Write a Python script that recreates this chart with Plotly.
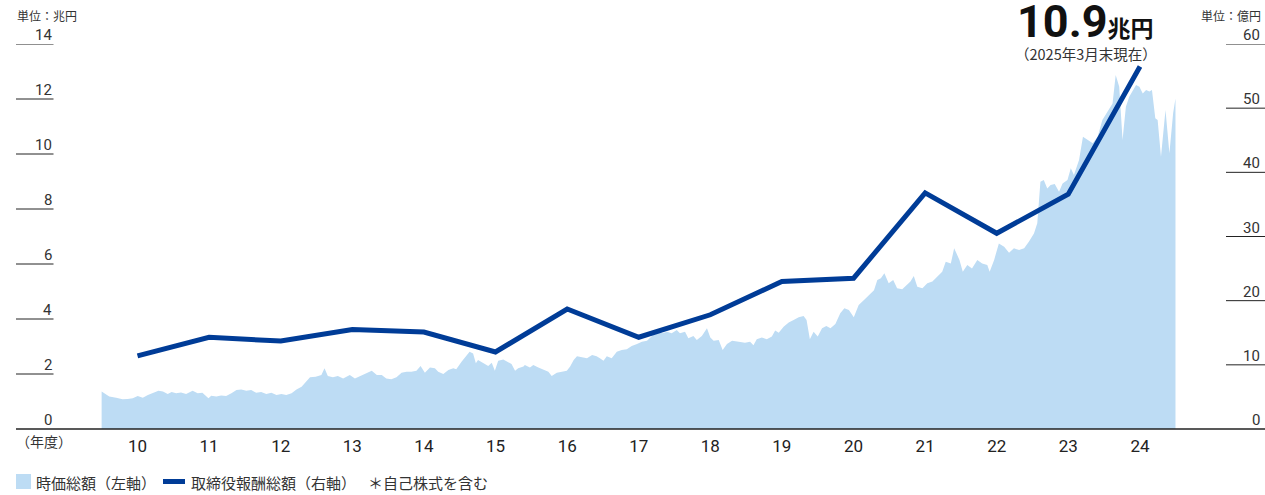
import plotly.graph_objects as go
import pandas as pd

# ---------------- data ----------------
fiscal_years = ["10", "11", "12", "13", "14", "15", "16", "17", "18", "19", "20", "21", "22", "23", "24"]
fy_mid_dates = ["2010-10-01", "2011-10-01", "2012-10-01", "2013-10-01", "2014-10-01",
                "2015-10-01", "2016-10-01", "2017-10-01", "2018-10-01", "2019-10-01",
                "2020-10-01", "2021-10-01", "2022-10-01", "2023-10-01", "2024-10-01"]
# 取締役報酬総額 (億円)
comp_values = [11.4, 14.3, 13.7, 15.5, 15.1, 12.0, 18.7, 14.3, 17.8, 23.0, 23.5, 36.8, 30.5, 36.6, 56.5]

# 時価総額 (兆円)
cap_dates = [
    "2010-04-01", "2010-04-15", "2010-05-10", "2010-06-14", "2010-07-17", "2010-08-12", "2010-09-07",
    "2010-10-02", "2010-10-28", "2010-11-23", "2010-12-18", "2011-01-16", "2011-02-08", "2011-03-04",
    "2011-03-24", "2011-04-16", "2011-05-11", "2011-06-06", "2011-07-09", "2011-08-04", "2011-08-28",
    "2011-09-28", "2011-10-12", "2011-11-07", "2011-12-02", "2011-12-27", "2012-01-23", "2012-02-18",
    "2012-03-13", "2012-04-08", "2012-05-03", "2012-05-28", "2012-06-23", "2012-07-19", "2012-08-14",
    "2012-09-09", "2012-10-04", "2012-10-29", "2012-11-25", "2012-12-20", "2013-01-15", "2013-02-05",
    "2013-02-27", "2013-03-28", "2013-04-26", "2013-05-12", "2013-05-29", "2013-06-24", "2013-07-19",
    "2013-08-15", "2013-09-18", "2013-10-14", "2013-11-09", "2013-12-04", "2014-01-08", "2014-02-03",
    "2014-02-28", "2014-03-23", "2014-04-18", "2014-05-14", "2014-06-09", "2014-07-04", "2014-07-29",
    "2014-08-24", "2014-09-14", "2014-10-06", "2014-11-01", "2014-11-26", "2014-12-13", "2015-01-08",
    "2015-02-03", "2015-02-28", "2015-03-15", "2015-04-11", "2015-05-06", "2015-05-22", "2015-06-09",
    "2015-06-23", "2015-07-04", "2015-07-21", "2015-08-08", "2015-08-25", "2015-09-12", "2015-09-28",
    "2015-10-15", "2015-11-10", "2015-12-05", "2015-12-22", "2016-01-09", "2016-01-25", "2016-02-21",
    "2016-02-28", "2016-03-25", "2016-04-11", "2016-05-07", "2016-06-02", "2016-06-27", "2016-07-14",
    "2016-08-09", "2016-09-04", "2016-09-29", "2016-10-16", "2016-11-03", "2016-11-20", "2016-12-15",
    "2017-01-10", "2017-02-05", "2017-02-28", "2017-03-17", "2017-04-04", "2017-04-21", "2017-05-16",
    "2017-06-11", "2017-07-06", "2017-08-01", "2017-08-26", "2017-09-22", "2017-10-17", "2017-11-12",
    "2017-12-07", "2018-01-02", "2018-01-28", "2018-02-23", "2018-03-18", "2018-04-13", "2018-04-29",
    "2018-05-25", "2018-06-11", "2018-07-07", "2018-07-24", "2018-08-19", "2018-09-14", "2018-10-01",
    "2018-10-18", "2018-11-13", "2018-12-03", "2018-12-25", "2019-01-20", "2019-02-23", "2019-03-27",
    "2019-04-22", "2019-05-09", "2019-05-26", "2019-06-21", "2019-07-16", "2019-08-11", "2019-08-28",
    "2019-09-15", "2019-10-10", "2019-11-05", "2019-11-30", "2019-12-26", "2020-01-20", "2020-02-04",
    "2020-02-21", "2020-03-11", "2020-04-01", "2020-04-23", "2020-05-15", "2020-06-05", "2020-06-30",
    "2020-07-25", "2020-08-15", "2020-09-07", "2020-10-02", "2020-10-27", "2020-11-23", "2020-12-18",
    "2021-01-13", "2021-01-30", "2021-02-17", "2021-03-07", "2021-03-29", "2021-04-21", "2021-05-11",
    "2021-06-06", "2021-07-01", "2021-07-18", "2021-08-04", "2021-08-22", "2021-09-17", "2021-10-12",
    "2021-11-07", "2021-12-02", "2021-12-27", "2022-01-14", "2022-02-09", "2022-02-26", "2022-03-05",
    "2022-03-25", "2022-04-11", "2022-05-04", "2022-05-28", "2022-06-24", "2022-07-19", "2022-08-14",
    "2022-08-26", "2022-09-18", "2022-10-12", "2022-11-08", "2022-12-03", "2022-12-28", "2023-01-23",
    "2023-02-18", "2023-03-14", "2023-04-09", "2023-04-26", "2023-05-12", "2023-05-29", "2023-06-16",
    "2023-07-03", "2023-07-24", "2023-08-15", "2023-09-02", "2023-09-27", "2023-10-14", "2023-10-30",
    "2023-11-25", "2023-12-15", "2024-01-08", "2024-02-03", "2024-02-28", "2024-03-23", "2024-04-18",
    "2024-05-14", "2024-05-30", "2024-06-17", "2024-07-04", "2024-07-21", "2024-08-07", "2024-08-24",
    "2024-09-11", "2024-09-28", "2024-10-15", "2024-11-01", "2024-11-18", "2024-12-01", "2024-12-18",
    "2024-12-30", "2025-01-16", "2025-02-08", "2025-02-28", "2025-03-19", "2025-03-31",
]
cap_values = [
    1.36, 1.30, 1.18, 1.14, 1.08, 1.09, 1.12,
    1.20, 1.14, 1.24, 1.30, 1.39, 1.36, 1.27,
    1.35, 1.30, 1.33, 1.27, 1.39, 1.30, 1.32,
    1.12, 1.21, 1.18, 1.22, 1.20, 1.30, 1.42,
    1.44, 1.39, 1.42, 1.32, 1.35, 1.27, 1.32,
    1.24, 1.27, 1.24, 1.30, 1.44, 1.54, 1.70,
    1.88, 1.90, 1.96, 2.21, 1.93, 1.88, 1.93,
    1.84, 1.96, 1.84, 1.93, 2.00, 2.12, 1.96,
    1.96, 1.84, 1.81, 1.88, 2.05, 2.08, 2.08,
    2.12, 2.29, 2.05, 2.24, 2.21, 2.08, 2.00,
    2.15, 2.21, 2.17, 2.45, 2.69, 2.81, 2.75,
    2.39, 2.51, 2.45, 2.36, 2.29, 2.41, 2.12,
    2.48, 2.53, 2.41, 2.36, 2.12, 2.21, 2.27,
    2.33, 2.24, 2.33, 2.24, 2.15, 2.08, 1.93,
    2.05, 2.08, 2.12, 2.27, 2.51, 2.65, 2.61,
    2.57, 2.69, 2.65, 2.57, 2.48, 2.65, 2.57,
    2.81, 2.87, 2.90, 3.02, 3.09, 3.17, 3.21,
    3.38, 3.60, 3.48, 3.54, 3.48, 3.60, 3.48,
    3.54, 3.30, 3.38, 3.24, 3.38, 3.66, 3.33,
    3.21, 3.24, 2.87, 3.09, 3.21, 3.17, 3.14,
    3.17, 3.05, 3.26, 3.33, 3.26, 3.36, 3.58,
    3.50, 3.72, 3.87, 3.96, 4.06, 4.11, 3.96,
    3.26, 3.54, 3.36, 3.66, 3.75, 3.66, 3.82,
    4.21, 4.39, 4.33, 4.06, 4.51, 4.69, 4.87,
    5.05, 5.42, 5.48, 5.66, 5.30, 5.42, 5.12,
    5.08, 5.24, 5.36, 5.56, 5.17, 5.12, 5.30,
    5.36, 5.54, 5.72, 6.08, 6.02, 6.57, 6.45,
    6.15, 5.72, 5.96, 5.84, 6.15, 6.02, 5.96,
    5.72, 6.15, 6.75, 6.63, 6.41, 6.57, 6.51,
    6.57, 6.81, 7.11, 7.48, 8.99, 9.05, 8.75,
    8.87, 8.91, 8.63, 8.93, 9.05, 9.48, 9.24,
    9.78, 10.63, 10.51, 10.39, 10.63, 11.24, 11.54,
    11.84, 12.87, 12.45, 10.51, 11.72, 12.08, 12.27,
    12.51, 12.45, 12.20, 12.33, 12.27, 12.33, 11.30,
    11.24, 9.90, 11.60, 10.03, 11.48, 12.02,
]

left_ticks = [0, 2, 4, 6, 8, 10, 12, 14]
right_ticks = [0, 10, 20, 30, 40, 50, 60]

# ---------------- layout helpers ----------------
W, H = 1265, 495
TOP, BOTTOM = 44, 429  # pixel rows of the plot area


def px(x):
    return x / W


def py(y):
    return (BOTTOM - y) / (BOTTOM - TOP)


FONT = "Roboto, 'Noto Sans CJK JP', sans-serif"
JP = "'Noto Sans CJK JP', Roboto, sans-serif"
AREA_COLOR = "#BDDCF4"
LINE_COLOR = "#003C97"
TEXT = "#333333"

# x range so that fiscal-year centres fall on the label positions
t0 = pd.Timestamp(fy_mid_dates[0])
t1 = pd.Timestamp(fy_mid_dates[-1])
x0_px, x1_px = 137.5, 1140.0
dpp = (t1 - t0) / (x1_px - x0_px)
x_start = t0 - dpp * x0_px
x_end = t0 + dpp * (W - x0_px)

fig = go.Figure()

fig.add_trace(go.Scatter(
    x=cap_dates, y=cap_values, mode="lines", fill="tozeroy",
    line=dict(width=0, color=AREA_COLOR), fillcolor=AREA_COLOR,
    name="時価総額（左軸）", showlegend=False, hoverinfo="skip",
))
fig.add_trace(go.Scatter(
    x=fy_mid_dates, y=comp_values, mode="lines", yaxis="y2",
    line=dict(width=5, color=LINE_COLOR),
    name="取締役報酬総額（右軸）", showlegend=False,
))

shapes = []
annotations = []

# baseline
shapes.append(dict(type="line", xref="paper", yref="paper", x0=px(16), x1=1.0,
                   y0=0, y1=0, line=dict(color="#222222", width=1.5)))

# left ticks and labels
for v in left_ticks:
    if v != 0:
        shapes.append(dict(type="line", xref="paper", yref="y", x0=px(16), x1=px(53.5),
                           y0=v, y1=v, line=dict(color="#222222", width=1)))
    annotations.append(dict(xref="paper", yref="y", x=px(53.5), y=v, text=str(v),
                            showarrow=False, xanchor="right", yanchor="bottom", yshift=-2,
                            font=dict(family=FONT, size=15, color=TEXT)))
# right ticks and labels
for v in right_ticks:
    if v != 0:
        shapes.append(dict(type="line", xref="paper", yref="y2", x0=px(1226), x1=1.0,
                           y0=v, y1=v, line=dict(color="#222222", width=1)))
    annotations.append(dict(xref="paper", yref="y2", x=px(1262), y=v, text=str(v),
                            showarrow=False, xanchor="right", yanchor="bottom", yshift=-2,
                            font=dict(family=FONT, size=15, color=TEXT)))

# unit labels
annotations.append(dict(xref="paper", yref="paper", x=px(15), y=py(16), text="単位：兆円",
                        showarrow=False, xanchor="left", yanchor="middle",
                        font=dict(family=JP, size=12, color=TEXT)))
annotations.append(dict(xref="paper", yref="paper", x=px(1263), y=py(16), text="単位：億円",
                        showarrow=False, xanchor="right", yanchor="middle",
                        font=dict(family=JP, size=12, color=TEXT)))
annotations.append(dict(xref="paper", yref="paper", x=px(14), y=py(441), text="（年度）",
                        showarrow=False, xanchor="left", yanchor="middle",
                        font=dict(family=JP, size=14, color=TEXT)))

# headline
annotations.append(dict(xref="paper", yref="paper", x=px(1085), y=py(21),
                        text="<b><span style='font-size:45px'>10.9</span>"
                             "<span style='font-size:23px'>兆円</span></b>",
                        showarrow=False, xanchor="center", yanchor="middle",
                        font=dict(family=FONT, size=23, color="#111111")))
annotations.append(dict(xref="paper", yref="paper", x=px(1086), y=py(53),
                        text="（2025年3月末現在）",
                        showarrow=False, xanchor="center", yanchor="middle",
                        font=dict(family=JP, size=14.5, color=TEXT)))

# legend
shapes.append(dict(type="rect", xref="paper", yref="paper", x0=px(16), x1=px(31),
                   y0=py(489), y1=py(474), fillcolor=AREA_COLOR, line=dict(width=0)))
annotations.append(dict(xref="paper", yref="paper", x=px(34), y=py(482),
                        text="時価総額（左軸）", showarrow=False, xanchor="left", yanchor="middle",
                        font=dict(family=JP, size=15, color=TEXT)))
shapes.append(dict(type="line", xref="paper", yref="paper", x0=px(163), x1=px(185),
                   y0=py(481.5), y1=py(481.5), line=dict(color=LINE_COLOR, width=5)))
annotations.append(dict(xref="paper", yref="paper", x=px(189), y=py(482),
                        text="取締役報酬総額（右軸）", showarrow=False, xanchor="left", yanchor="middle",
                        font=dict(family=JP, size=15, color=TEXT)))
annotations.append(dict(xref="paper", yref="paper", x=px(366), y=py(482),
                        text="＊自己株式を含む", showarrow=False, xanchor="left", yanchor="middle",
                        font=dict(family=JP, size=15, color=TEXT)))

fig.update_layout(
    width=W, height=H,
    margin=dict(l=0, r=0, t=TOP, b=H - BOTTOM),
    paper_bgcolor="white", plot_bgcolor="white",
    showlegend=False,
    xaxis=dict(type="date", range=[x_start, x_end], tickvals=fy_mid_dates, ticktext=fiscal_years,
               showgrid=False, zeroline=False, showline=False,
               ticks="outside", ticklen=2, tickcolor="rgba(0,0,0,0)",
               tickfont=dict(family=FONT, size=17, color="#222222"), fixedrange=True),
    yaxis=dict(range=[0, 14], showgrid=False, zeroline=False, showticklabels=False,
               showline=False, fixedrange=True),
    yaxis2=dict(range=[0, 60], overlaying="y", side="right", showgrid=False, zeroline=False,
                showticklabels=False, showline=False, fixedrange=True),
    shapes=shapes,
    annotations=annotations,
)

fig.write_html("out.html")
